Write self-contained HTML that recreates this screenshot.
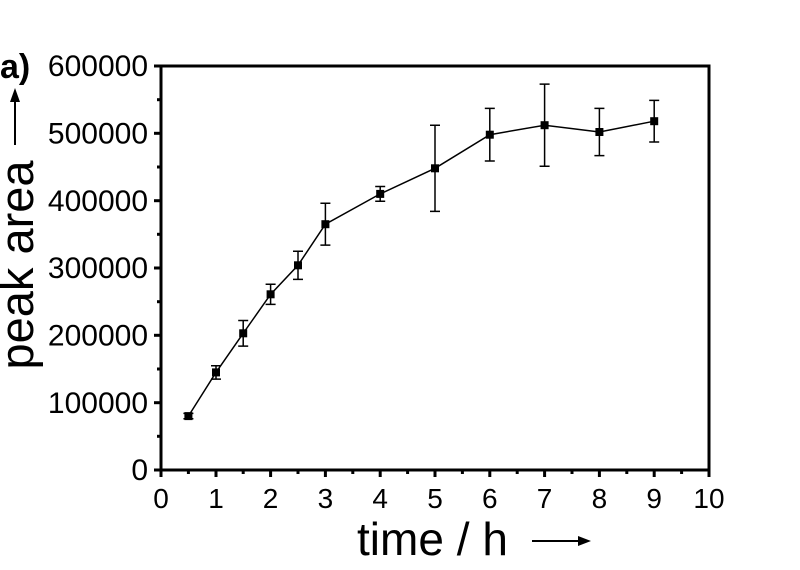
<!DOCTYPE html>
<html><head><style>body{margin:0;background:#fff}</style></head><body>
<svg width="800" height="565" xmlns="http://www.w3.org/2000/svg" font-family="Liberation Sans, sans-serif">
<rect width="800" height="565" fill="#fff"/>
<rect x="161" y="66" width="548" height="404" fill="none" stroke="#000" stroke-width="3"/>
<g stroke="#000" stroke-width="3">
<line x1="161" y1="470" x2="161" y2="477"/><line x1="216" y1="470" x2="216" y2="477"/><line x1="270.6" y1="470" x2="270.6" y2="477"/><line x1="325.4" y1="470" x2="325.4" y2="477"/><line x1="380.2" y1="470" x2="380.2" y2="477"/><line x1="435" y1="470" x2="435" y2="477"/><line x1="489.8" y1="470" x2="489.8" y2="477"/><line x1="544.6" y1="470" x2="544.6" y2="477"/><line x1="599.4" y1="470" x2="599.4" y2="477"/><line x1="654.2" y1="470" x2="654.2" y2="477"/><line x1="709" y1="470" x2="709" y2="477"/>
<line x1="188.4" y1="470" x2="188.4" y2="474"/><line x1="243.2" y1="470" x2="243.2" y2="474"/><line x1="298" y1="470" x2="298" y2="474"/><line x1="352.8" y1="470" x2="352.8" y2="474"/><line x1="407.6" y1="470" x2="407.6" y2="474"/><line x1="462.4" y1="470" x2="462.4" y2="474"/><line x1="517.2" y1="470" x2="517.2" y2="474"/><line x1="572" y1="470" x2="572" y2="474"/><line x1="626.8" y1="470" x2="626.8" y2="474"/><line x1="681.6" y1="470" x2="681.6" y2="474"/>
<line x1="154" y1="470" x2="161" y2="470"/><line x1="154" y1="402.7" x2="161" y2="402.7"/><line x1="154" y1="335.3" x2="161" y2="335.3"/><line x1="154" y1="268" x2="161" y2="268"/><line x1="154" y1="200.7" x2="161" y2="200.7"/><line x1="154" y1="133.3" x2="161" y2="133.3"/><line x1="154" y1="66" x2="161" y2="66"/>
<line x1="157" y1="436.3" x2="161" y2="436.3"/><line x1="157" y1="369" x2="161" y2="369"/><line x1="157" y1="301.7" x2="161" y2="301.7"/><line x1="157" y1="234.3" x2="161" y2="234.3"/><line x1="157" y1="167" x2="161" y2="167"/><line x1="157" y1="99.7" x2="161" y2="99.7"/>
</g>
<g font-size="28" text-anchor="middle">
<text x="161" y="508">0</text><text x="216" y="508">1</text><text x="270.6" y="508">2</text><text x="325.4" y="508">3</text><text x="380.2" y="508">4</text><text x="435" y="508">5</text><text x="489.8" y="508">6</text><text x="544.6" y="508">7</text><text x="599.4" y="508">8</text><text x="654.2" y="508">9</text><text x="709" y="508">10</text>
</g>
<g font-size="30" text-anchor="end">
<text x="148" y="480">0</text><text x="148" y="413">100000</text><text x="148" y="345.5">200000</text><text x="148" y="278">300000</text><text x="148" y="211">400000</text><text x="148" y="143.5">500000</text><text x="148" y="76">600000</text>
</g>
<text x="0" y="78" font-size="34" font-weight="bold">a)</text>
<line x1="15" y1="145" x2="15" y2="100" stroke="#000" stroke-width="2"/><polygon points="10,102 20,102 15,88" fill="#000"/>
<text transform="translate(33,265) rotate(-90)" font-size="47" text-anchor="middle">peak area</text>
<text x="357" y="555" font-size="46" textLength="151">time / h</text>
<line x1="532" y1="541" x2="580" y2="541" stroke="#000" stroke-width="2"/><polygon points="578,536 578,546 591,541" fill="#000"/>
<polyline fill="none" stroke="#000" stroke-width="1.5" points="188.4,416.1 216,372.4 243.2,333.3 270.6,294.3 298,265.3 325.4,224.2 380.2,193.9 435,168.3 489.8,134.7 544.6,125.2 599.4,132 654.2,121.2"/>
<g stroke="#000" stroke-width="1.5">
<path d="M188.4,413.4V418.8M183.4,413.4h10M183.4,418.8h10"/>
<path d="M216,365.7V379.1M211,365.7h10M211,379.1h10"/>
<path d="M243.2,320.5V346.1M238.2,320.5h10M238.2,346.1h10"/>
<path d="M270.6,284.2V304.4M265.6,284.2h10M265.6,304.4h10"/>
<path d="M298,251.2V279.4M293,251.2h10M293,279.4h10"/>
<path d="M325.4,203.3V245.1M320.4,203.3h10M320.4,245.1h10"/>
<path d="M380.2,186.5V201.3M375.2,186.5h10M375.2,201.3h10"/>
<path d="M435,125.2V211.4M430,125.2h10M430,211.4h10"/>
<path d="M489.8,108.4V161M484.8,108.4h10M484.8,161h10"/>
<path d="M544.6,84.1V166.3M539.6,84.1h10M539.6,166.3h10"/>
<path d="M599.4,108.4V155.6M594.4,108.4h10M594.4,155.6h10"/>
<path d="M654.2,100.4V142M649.2,100.4h10M649.2,142h10"/>
</g>
<g fill="#000">
<rect x="184.4" y="412.1" width="8" height="8"/><rect x="212" y="368.4" width="8" height="8"/><rect x="239.2" y="329.3" width="8" height="8"/><rect x="266.6" y="290.3" width="8" height="8"/><rect x="294" y="261.3" width="8" height="8"/><rect x="321.4" y="220.2" width="8" height="8"/><rect x="376.2" y="189.9" width="8" height="8"/><rect x="431" y="164.3" width="8" height="8"/><rect x="485.8" y="130.7" width="8" height="8"/><rect x="540.6" y="121.2" width="8" height="8"/><rect x="595.4" y="128" width="8" height="8"/><rect x="650.2" y="117.2" width="8" height="8"/>
</g>
</svg>
</body></html>
